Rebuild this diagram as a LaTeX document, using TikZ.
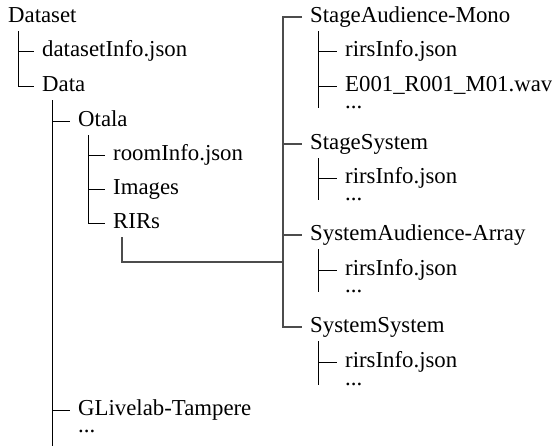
\documentclass[tikz,border=0pt]{standalone}
\usepackage{fontspec}
\setmainfont{Liberation Serif}
\usepackage{tikz}
\usetikzlibrary{positioning}
\tikzset{
  entry/.style={anchor=west, inner xsep=8pt, inner ysep=0pt, text height=16pt, text depth=5pt,
    font=\fontsize{22.8}{27}\selectfont},
  etcbox/.style={entry, anchor=base west, text height=3pt, text depth=0pt},
  branch/.style={line width=0.8pt, black},
  link/.style={line width=1.1pt, black!70},
}
% tick from a column line to an entry
\newcommand{\twig}[2]{\draw[branch] (#2.west -| #1) -- (#2.west);}

\begin{document}
\begin{tikzpicture}[x=1pt,y=-1pt]
  \useasboundingbox (0,0) rectangle (552,446);
  % left tree
  \foreach \x/\y/\id/\txt in {0/17/dataset/Dataset, 34/51/dsinfo/datasetInfo.json, 34/86/data/Data,
      70/121/otala/Otala, 105/155/room/roomInfo.json, 105/189/images/Images, 105/223/rirs/RIRs,
      70/410/glive/GLivelab-Tampere}
    \node[entry] (\id) at (\x,\y) {\txt};
  % right tree
  \foreach \x/\y/\id/\txt in {302/17/saMono/StageAudience-Mono, 337/51/saInfo/rirsInfo.json,
      337/86/saWav/E001\_R001\_M01.wav,
      302/144/ssys/StageSystem, 337/178/ssInfo/rirsInfo.json,
      302/235/saArr/SystemAudience-Array, 337/270/arInfo/rirsInfo.json,
      302/327/sysSys/SystemSystem, 337/362/syInfo/rirsInfo.json}
    \node[entry] (\id) at (\x,\y) {\txt};
  % the "more" rows
  \foreach \x/\y/\id in {70/433/moreRooms, 337/108.5/saMore, 337/200.5/ssMore,
      337/292.5/arMore, 337/385.5/syMore}
    \node[etcbox] (\id) at (\x,\y) {...};

  % column lines
  \coordinate (kDataset) at (18,0);
  \coordinate (kData) at (52,0);
  \coordinate (kOtala) at (88,0);
  \coordinate (kRirs) at (122,0);
  \coordinate (kTrunk) at (283,0);
  \coordinate (kSub) at (318,0);
  \coordinate (dataEnd) at (52,446);
  \coordinate (join) at (283,262);

  \draw[branch] (kDataset |- dataset.south) ++(0,3.5) |- (data.west);
  \twig{kDataset}{dsinfo}
  \draw[branch] (kData |- data.south) ++(0,3.5) -- (dataEnd);
  \twig{kData}{otala}
  \twig{kData}{glive}
  \draw[branch] (kOtala |- otala.south) ++(0,3.5) |- (rirs.west);
  \twig{kOtala}{room}
  \twig{kOtala}{images}

  % RIRs to the measurement folders
  \draw[link] (kRirs |- rirs.south) ++(0,3.5) |- (join);
  \draw[link] (saMono.west) -| (sysSys.west -| kTrunk) -- (sysSys.west);
  \draw[link] (ssys.west -| kTrunk) -- (ssys.west);
  \draw[link] (saArr.west -| kTrunk) -- (saArr.west);

  % contents of each folder
  \foreach \top/\last in {saMono/saMore, ssys/ssMore, saArr/arMore, sysSys/syMore}
    \draw[branch] (kSub |- \top.south) ++(0,3.5) -- (kSub |- \last.base);
  \foreach \id in {saInfo, saWav, ssInfo, arInfo, syInfo}
    {\twig{kSub}{\id}}
\end{tikzpicture}
\end{document}
